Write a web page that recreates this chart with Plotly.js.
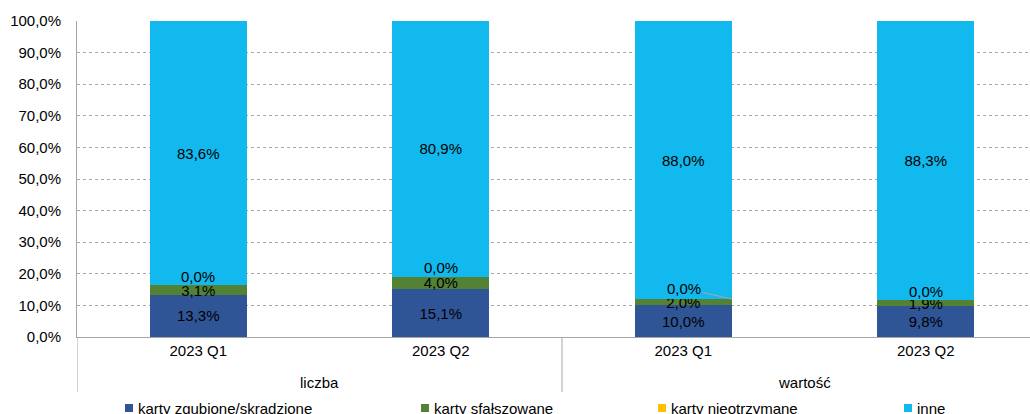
<!DOCTYPE html>
<html>
<head>
<meta charset="utf-8">
<script src="https://cdn.plot.ly/plotly-3.0.1.min.js"></script>
<style>html,body{margin:0;padding:0;background:#fff;}#chart{width:1030px;height:414px;}</style>
</head>
<body>
<div id="chart"></div>
<script>
// ---- data ----
const categories = ['2023 Q1', '2023 Q2', '2023 Q1', '2023 Q2'];
const groups = ['liczba', 'liczba', 'wartość', 'wartość'];
const seriesNames = ['karty zgubione/skradzione', 'karty sfałszowane', 'karty nieotrzymane', 'inne'];
const lostStolen = [13.3, 15.1, 10.0, 9.8];
const counterfeit = [3.1, 4.0, 2.0, 1.9];
const notReceived = [0.0, 0.0, 0.0, 0.0];
const other = [83.6, 80.9, 88.0, 88.3];
const yTicks = [0, 10, 20, 30, 40, 50, 60, 70, 80, 90, 100];

// ---- styles ----
const colors = ['#2F5597', '#548235', '#FFC000', '#12B9EE'];
const FONT = 'Liberation Sans, Arial, sans-serif';
const fmt = v => v.toFixed(1).replace('.', ',') + '%';
const xIdx = categories.map((_, i) => i);

const seriesVals = [lostStolen, counterfeit, notReceived, other];
const traces = seriesVals.map((vals, s) => ({
  type: 'bar',
  name: seriesNames[s],
  x: xIdx,
  y: vals,
  marker: {color: colors[s], line: {width: 0}},
  text: s === 2 ? undefined : vals.map(fmt),
  textposition: s === 2 ? 'none' : 'inside',
  insidetextanchor: 'middle',
  constraintext: 'none',
  textangle: 0,
  insidetextfont: {family: FONT, size: 15, color: '#000'},
  hoverinfo: 'skip',
  showlegend: false
}));

// plot geometry helpers (paper coords)
const plotTop = 21, plotBottom = 337, plotH = plotBottom - plotTop;
const py = p => (plotBottom - p) / plotH;

const annotations = [];
// zero-value labels above the stacks
xIdx.forEach(i => {
  const top = lostStolen[i] + counterfeit[i] + notReceived[i];
  if (i === 2) {
    annotations.push({
      x: i + 0.2, y: top, xref: 'x', yref: 'y',
      text: fmt(notReceived[i]), showarrow: true, arrowhead: 0, arrowwidth: 1,
      arrowcolor: '#A6A6A6', ax: -48, ay: -11, standoff: 0,
      font: {family: FONT, size: 15, color: '#000'}
    });
  } else {
    annotations.push({
      x: i, y: top, xref: 'x', yref: 'y', yanchor: 'middle', yshift: 9,
      text: fmt(notReceived[i]), showarrow: false,
      font: {family: FONT, size: 15, color: '#000'}
    });
  }
});
// group labels
const uniqueGroups = [...new Set(groups)];
uniqueGroups.forEach(g => {
  const idx = xIdx.filter(i => groups[i] === g);
  const c = idx.reduce((a, b) => a + b, 0) / idx.length;
  annotations.push({
    x: c, y: py(383), xref: 'x', yref: 'paper', yanchor: 'middle',
    text: g, showarrow: false, font: {family: FONT, size: 15, color: '#000'}
  });
});
// manual legend
const legendX = [125, 421, 658, 904];
const shapes = [];
seriesNames.forEach((n, s) => {
  shapes.push({
    type: 'rect', xref: 'paper', yref: 'paper',
    x0: (legendX[s] - 77) / 953, x1: (legendX[s] + 8 - 77) / 953,
    y0: py(412), y1: py(404), fillcolor: colors[s], line: {width: 0}
  });
  annotations.push({
    x: (legendX[s] + 11 - 77) / 953, y: py(408), xref: 'paper', yref: 'paper',
    xanchor: 'left', yanchor: 'middle', text: n, showarrow: false,
    font: {family: FONT, size: 15, color: '#000'}
  });
});
// group separators
[-0.5, 1.5].forEach(xv => {
  shapes.push({
    type: 'line', xref: 'x', yref: 'paper', x0: xv, x1: xv, y0: 0, y1: py(392),
    line: {color: '#A6A6A6', width: 1}
  });
});

const layout = {
  width: 1030, height: 414,
  margin: {l: 77, r: 0, t: 21, b: 77, pad: 0},
  paper_bgcolor: '#fff', plot_bgcolor: '#fff',
  barmode: 'stack', bargap: 0.6,
  separators: ', ',
  font: {family: FONT, size: 15, color: '#000'},
  xaxis: {
    range: [-0.5, 3.43], tickvals: xIdx, ticktext: categories,
    showline: true, linecolor: '#A6A6A6', linewidth: 1,
    showgrid: false, zeroline: false, ticks: '', fixedrange: true,
    tickfont: {family: FONT, size: 15, color: '#000'}
  },
  yaxis: {
    range: [0, 100], tickvals: yTicks, ticktext: yTicks.map(fmt),
    showline: true, linecolor: '#A6A6A6', linewidth: 1,
    showgrid: true, gridcolor: '#A6A6A6', griddash: 'dot', gridwidth: 1,
    zeroline: false, ticks: '', ticklabelstandoff: 12,
    tickfont: {family: FONT, size: 15, color: '#000'}
  },
  annotations: annotations,
  shapes: shapes,
  showlegend: false
};

Plotly.newPlot('chart', traces, layout, {displayModeBar: false, staticPlot: true});
</script>
</body>
</html>
